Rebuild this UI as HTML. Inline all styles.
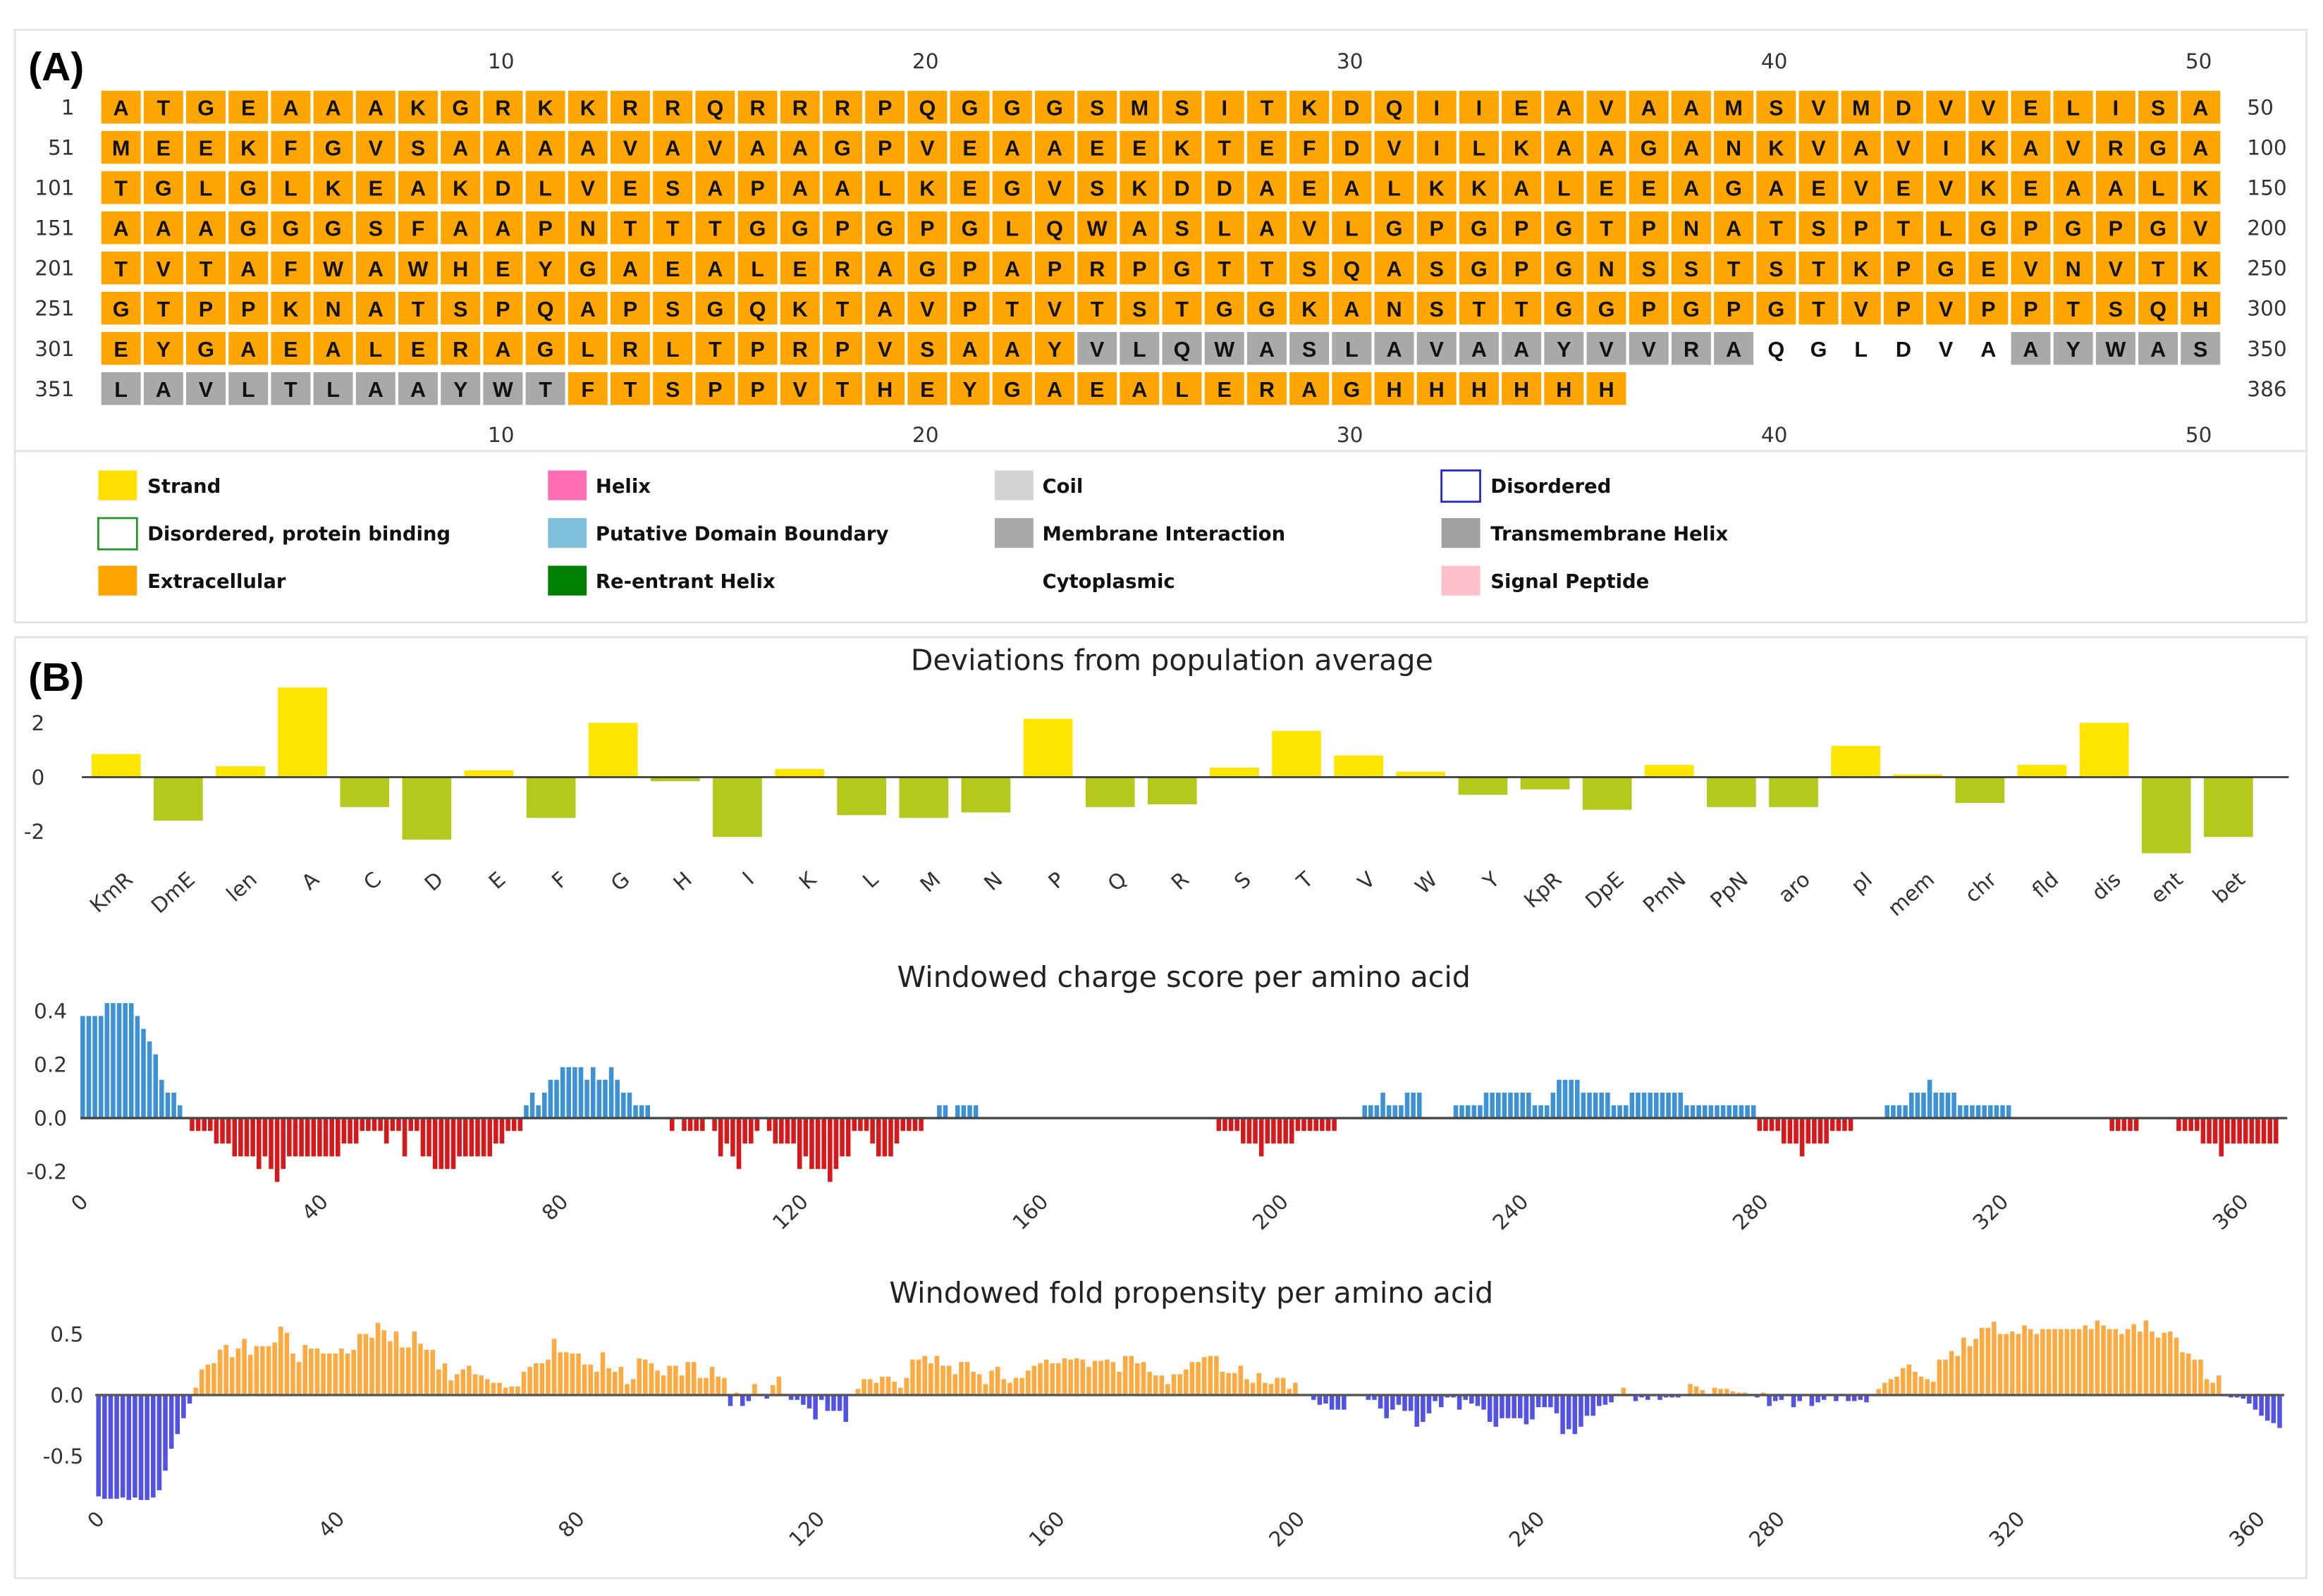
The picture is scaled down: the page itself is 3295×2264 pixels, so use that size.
<!DOCTYPE html>
<html><head><meta charset="utf-8"><style>
html,body{margin:0;padding:0;background:#fff;}
svg{display:block;font-family:"DejaVu Sans","Liberation Sans",sans-serif;}
.seqt{font-family:"Liberation Sans","DejaVu Sans",sans-serif;font-weight:bold;font-size:14.5px;}
.leg{font-family:"DejaVu Sans","Liberation Sans",sans-serif;font-weight:bold;font-size:13px;fill:#111;}
</style></head><body>
<svg id="fig" xmlns="http://www.w3.org/2000/svg" width="3295" height="2264" viewBox="0 0 1560 1072" preserveAspectRatio="none">
<rect x="10" y="20" width="1539" height="283" fill="#fff" stroke="#e2e2e2" stroke-width="1.2"/>
<rect x="10" y="303" width="1539" height="115" fill="#fff" stroke="#e2e2e2" stroke-width="1.2"/>
<rect x="10" y="428" width="1539" height="632" fill="#fff" stroke="#e2e2e2" stroke-width="1.2"/>
<text x="19" y="54" font-family="Liberation Sans, sans-serif" font-weight="bold" font-size="27">(A)</text>
<text x="19" y="464" font-family="Liberation Sans, sans-serif" font-weight="bold" font-size="27">(B)</text>
<g id="seq"></g>
<g id="legend">
<rect x="66" y="316" width="26" height="20" fill="#FFE000"/><text class="leg" x="99" y="331">Strand</text>
<rect x="368" y="316" width="26" height="20" fill="#FF6EB4"/><text class="leg" x="400" y="331">Helix</text>
<rect x="668" y="316" width="26" height="20" fill="#D3D3D3"/><text class="leg" x="700" y="331">Coil</text>
<rect x="968" y="316" width="26" height="21" fill="#fff" stroke="#2222dd" stroke-width="1.3"/><text class="leg" x="1001" y="331">Disordered</text>
<rect x="66" y="348" width="26" height="21" fill="#fff" stroke="#229922" stroke-width="1.3"/><text class="leg" x="99" y="363">Disordered, protein binding</text>
<rect x="368" y="348" width="26" height="20" fill="#7EC0DD"/><text class="leg" x="400" y="363">Putative Domain Boundary</text>
<rect x="668" y="348" width="26" height="20" fill="#A9A9A9"/><text class="leg" x="700" y="363">Membrane Interaction</text>
<rect x="968" y="348" width="26" height="20" fill="#A0A0A0"/><text class="leg" x="1001" y="363">Transmembrane Helix</text>
<rect x="66" y="380" width="26" height="20" fill="#FFA500"/><text class="leg" x="99" y="395">Extracellular</text>
<rect x="368" y="380" width="26" height="20" fill="#008000"/><text class="leg" x="400" y="395">Re-entrant Helix</text>
<text class="leg" x="700" y="395">Cytoplasmic</text>
<rect x="968" y="380" width="26" height="20" fill="#FFC0CB"/><text class="leg" x="1001" y="395">Signal Peptide</text>
</g>
<text x="787" y="450" text-anchor="middle" font-size="19.5" fill="#222">Deviations from population average</text>
<text x="795" y="663" text-anchor="middle" font-size="19.5" fill="#222">Windowed charge score per amino acid</text>
<text x="800" y="875" text-anchor="middle" font-size="19.5" fill="#222">Windowed fold propensity per amino acid</text>
<g id="dev"></g><g id="chg"></g><g id="fold"></g>
</svg>
<script>
const NS="http://www.w3.org/2000/svg";
function mk(tag,attrs,parent){const e=document.createElementNS(NS,tag);for(const k in attrs)e.setAttribute(k,attrs[k]);parent.appendChild(e);return e;}

// ---------- Sequence panel ----------
const seqRows=["ATGEAAAKGRKKRRQRRRPQGGGSMSITKDQIIEAVAAMSVMDVVELISA",
"MEEKFGVSAAAAVAVAAGPVEAAEEKTEFDVILKAAGANKVAVIKAVRGA",
"TGLGLKEAKDLVESAPAALKEGVSKDDAEALKKALEEAGAEVEVKEAALK",
"AAAGGGSFAAPNTTTGGPGPGLQWASLAVLGPGPGTPNATSPTLGPGPGV",
"TVTAFWAWHEYGAEALERAGPAPRPGTTSQASGPGNSSTSTKPGEVNVTK",
"GTPPKNATSPQAPSGQKTAVPTVTSTGGKANSTTGGPGPGTVPVPPTSQH",
"EYGAEALERAGLRLTPRPVSAAYVLQWASLAVAAYVVRAQGLDVAAYWAS",
"LAVLTLAAYWTFTSPPVTHEYGAEALERAGHHHHHH"];
const rowStarts=[1,51,101,151,201,251,301,351];
const rowEnds=[50,100,150,200,250,300,350,386];
const tmRanges=[[324,339],[346,361]];
const unannotated=[[340,345]];
const seqG=document.getElementById('seq');
const cx0=68, cw=28.5, ry0=61, rh=27;
function inR(n,rs){return rs.some(r=>n>=r[0]&&n<=r[1]);}
seqRows.forEach((row,r)=>{
  const t=mk('text',{x:50,y:ry0+r*rh+16,'text-anchor':'end','font-size':14,fill:'#333'},seqG);
  t.textContent=rowStarts[r];
  
  
  const t2=mk('text',{x:1509,y:ry0+r*rh+16,'font-size':14,fill:'#333'},seqG);
  t2.textContent=rowEnds[r];
  
  
  for(let c=0;c<row.length;c++){
    const n=rowStarts[r]+c;
    const col=inR(n,tmRanges)?'#A9A9A9':(inR(n,unannotated)?'#fff':'#FFA500');
    const rc=mk('rect',{x:cx0+c*cw,y:ry0+r*rh,width:26.5,height:22,fill:col},seqG);
    
    
    const lt=mk('text',{x:cx0+c*cw+13.25,y:ry0+r*rh+16.5,'text-anchor':'middle',class:'seqt',fill:'#111'},seqG);
    lt.textContent=row[c];
    
    
  }
});
[10,20,30,40,50].forEach(v=>{
  [46,297].forEach(yy=>{
    const t=mk('text',{x:cx0+(v-1)*cw+12,y:yy,'text-anchor':'middle','font-size':14,fill:'#333'},seqG);
    t.textContent=v;
    
    
  });
});

// ---------- Deviation chart ----------
const devCats=["KmR","DmE","len","A","C","D","E","F","G","H","I","K","L","M","N","P","Q","R","S","T","V","W","Y","KpR","DpE","PmN","PpN","aro","pI","mem","chr","fld","dis","ent","bet"];
const devVals=[0.85,-1.6,0.4,3.3,-1.1,-2.3,0.25,-1.5,2.0,-0.15,-2.2,0.3,-1.4,-1.5,-1.3,2.15,-1.1,-1.0,0.35,1.7,0.8,0.2,-0.65,-0.45,-1.2,0.45,-1.1,-1.1,1.15,0.1,-0.95,0.45,2.0,-2.8,-2.2];
const devTicks=[2,0,-2];
const devG=document.getElementById('dev');
function devX(i){return 78+i*41.72;}
function devY(v){return 522-v*18.25;}
devVals.forEach((v,i)=>{
  const y0=devY(0),y1=devY(v);
  const b=mk('rect',{x:devX(i)-16.5,y:Math.min(y0,y1),width:33,height:Math.abs(y1-y0),fill:v>=0?'#FFE600':'#B3C91C'},devG);
  
  
  const t=mk('text',{x:devX(i)+12,y:592,'text-anchor':'end','font-size':14,fill:'#333',transform:`rotate(-42 ${devX(i)+12} 592)`},devG);
  t.textContent=devCats[i];
  
  
});
const dl=mk('line',{x1:55,x2:1537,y1:devY(0),y2:devY(0),stroke:'#333','stroke-width':1.2},devG);


devTicks.forEach(v=>{
  const t=mk('text',{x:30,y:devY(v)+5,'text-anchor':'end','font-size':14,fill:'#333'},devG);
  t.textContent=v;
  
  
});

// ---------- Charge chart ----------
const chargeVals=[
.381,.381,.381,.381,.429,.429,.429,.429,.429,.381,.333,.286,.238,.143,.095,.095,.048,0,
-.048,-.048,-.048,-.048,-.095,-.095,-.095,-.143,-.143,-.143,-.143,-.19,-.143,-.19,-.238,-.19,
-.143,-.143,-.143,-.143,-.143,-.143,-.143,-.143,-.143,-.095,-.095,-.095,-.048,-.048,-.048,-.048,
-.095,-.048,-.048,-.143,-.048,-.048,-.143,-.143,-.19,-.19,-.19,-.19,-.143,-.143,-.143,-.143,-.143,-.143,
-.095,-.095,-.048,-.048,-.048,
.048,.095,.048,.095,.143,.143,.19,.19,.19,.19,.143,.19,.143,.143,.19,.143,.095,.095,.048,.048,.048,
0,0,0,-.048,0,-.048,-.048,-.048,-.048,0,-.048,-.143,-.095,-.143,-.19,-.095,-.095,-.048,0,
-.048,-.095,-.095,-.095,-.095,-.19,-.143,-.19,-.19,-.19,-.238,-.19,-.143,-.143,-.048,-.048,-.048,
-.095,-.143,-.143,-.143,-.095,-.048,-.048,-.048,-.048,0,0,.048,.048,0,.048,.048,.048,.048,
0,0,0,0,0,0,0,0,0,0,0,0,0,0,0,0,0,0,0,0,0,0,0,0,0,0,0,0,0,0,0,0,0,0,0,0,0,0,0,
-.048,-.048,-.048,-.048,-.095,-.095,-.095,-.143,-.095,-.095,-.095,-.095,-.095,
-.048,-.048,-.048,-.048,-.048,-.048,-.048,0,0,0,0,
.048,.048,.048,.095,.048,.048,.048,.095,.095,.095,0,0,0,0,0,
.048,.048,.048,.048,.048,.095,.095,.095,.095,.095,.095,.095,.095,.048,.048,.048,.095,
.143,.143,.143,.143,.095,.095,.095,.095,.095,.048,.048,.048,
.095,.095,.095,.095,.095,.095,.095,.095,.095,
.048,.048,.048,.048,.048,.048,.048,.048,.048,.048,.048,.048,
-.048,-.048,-.048,-.048,-.095,-.095,-.095,-.143,-.095,-.095,-.095,-.095,-.048,-.048,-.048,-.048,
0,0,0,0,0,.048,.048,.048,.048,.095,.095,.095,.143,.095,.095,.095,.095,
.048,.048,.048,.048,.048,.048,.048,.048,.048,
0,0,0,0,0,0,0,0,0,0,0,0,0,0,0,0,
-.048,-.048,-.048,-.048,-.048,0,0,0,0,0,0,
-.048,-.048,-.048,-.048,-.095,-.095,-.095,-.143,-.095,-.095,-.095,-.095,-.095,-.095,-.095,-.095,-.095];
const chargeTicksY=[0.4,0.2,0.0,-0.2];
const chargeTickLabelsY=["0.4","0.2","0.0","-0.2"];
const chargeTicksX=[0,40,80,120,160,200,240,280,320,360];
const chgG=document.getElementById('chg');
function cX(i){return 54+i*4.08;}
function cY(v){return 751-v*180;}
function cTickX(v){return 60+v*4.03;}
chargeVals.forEach((v,i)=>{
  if(v===0)return;
  const y0=cY(0),y1=cY(v);
  const b=mk('rect',{x:cX(i),y:Math.min(y0,y1),width:3.1,height:Math.abs(y1-y0),fill:v>0?'#3D92D6':'#D7191C'},chgG);
  
  
});
const cl=mk('line',{x1:54,x2:1536,y1:cY(0),y2:cY(0),stroke:'#444','stroke-width':1.6},chgG);


chargeTicksY.forEach((v,k)=>{
  const t=mk('text',{x:45,y:cY(v)+5,'text-anchor':'end','font-size':14,fill:'#333'},chgG);
  t.textContent=chargeTickLabelsY[k];
  
  
});
chargeTicksX.forEach(v=>{
  const x=cTickX(v);
  const t=mk('text',{x:x,y:808,'text-anchor':'end','font-size':14,fill:'#333',transform:`rotate(-45 ${x} 808)`},chgG);
  t.textContent=v;
  
  
});

// ---------- Fold chart ----------
const foldVals=[
-0.83,-0.85,-0.85,-0.85,-0.84,-0.86,-0.84,-0.86,-0.86,-0.84,-0.78,-0.62,-0.44,-0.32,-0.19,-0.07,
0.06,0.21,0.25,0.26,0.37,0.41,0.31,0.38,0.46,0.33,0.40,0.40,0.40,0.43,0.56,0.51,0.34,0.27,0.41,0.38,
0.38,0.34,0.34,0.34,0.38,0.34,0.37,0.50,0.50,0.47,0.59,0.53,0.44,0.52,0.39,0.39,0.52,0.42,0.37,0.37,
0.21,0.26,0.12,0.17,0.21,0.24,0.17,0.16,0.13,0.10,0.10,0.06,0.07,0.07,0.19,0.23,0.26,0.26,0.29,0.46,
0.35,0.35,0.34,0.34,0.25,0.25,0.19,0.35,0.22,0.19,0.23,0.09,0.13,0.30,0.29,0.26,0.20,0.16,0.24,0.24,
0.16,0.27,0.27,0.14,0.14,0.23,0.15,0.14,
-0.09,0.02,-0.09,-0.05,0.09,0.01,-0.03,0.08,0.15,0.01,-0.04,-0.04,-0.08,-0.11,-0.20,-0.04,-0.13,-0.13,-0.13,-0.22,
0.01,0.05,0.13,0.13,0.10,0.15,0.15,0.11,0.06,0.14,0.29,0.29,0.32,0.26,0.32,0.24,0.24,0.17,0.27,0.27,
0.19,0.17,0.09,0.20,0.23,0.13,0.10,0.14,0.14,0.20,0.24,0.26,0.29,0.26,0.26,0.30,0.29,0.30,0.29,0.23,
0.28,0.28,0.29,0.27,0.19,0.32,0.32,0.26,0.27,0.19,0.16,0.16,0.09,0.17,0.17,0.21,0.27,0.27,0.31,0.32,
0.32,0.19,0.18,0.18,0.24,0.13,0.10,0.18,0.10,0.09,0.14,0.14,0.05,0.10,0.0,0.0,
-0.04,-0.08,-0.07,-0.12,-0.12,-0.12,0.01,0.01,0.0,-0.04,-0.04,-0.11,-0.19,-0.12,-0.08,-0.13,-0.13,-0.26,-0.22,-0.15,
-0.05,-0.10,-0.02,-0.02,-0.12,-0.04,-0.07,-0.09,-0.12,-0.22,-0.26,-0.19,-0.19,-0.19,-0.19,-0.24,-0.20,-0.10,-0.10,-0.10,
-0.15,-0.32,-0.28,-0.32,-0.26,
-0.17,-0.17,-0.09,-0.08,-0.06,0.01,0.06,0.01,-0.05,-0.02,-0.04,-0.01,-0.04,-0.02,-0.02,-0.02,0.0,0.09,0.07,0.04,
-0.01,0.06,0.05,0.05,0.03,0.02,0.02,0.01,-0.02,0.02,-0.09,-0.05,-0.04,0.0,-0.10,-0.05,0.0,-0.09,-0.06,-0.04,
0.01,-0.05,0.01,-0.05,-0.05,-0.04,-0.06,0.0,0.05,0.10,0.13,0.15,0.22,0.25,0.19,0.15,0.13,0.11,0.29,0.29,
0.36,0.32,0.47,0.40,0.46,0.55,0.55,0.60,0.50,0.50,0.52,0.50,0.57,0.54,0.50,0.54,0.54,0.54,0.54,0.54,
0.54,0.54,0.57,0.54,0.61,0.57,0.54,0.54,0.50,0.54,0.58,0.52,0.61,0.52,0.47,0.51,0.52,0.47,0.35,0.34,
0.29,0.29,0.13,0.10,0.16,-0.01,-0.02,-0.02,-0.03,-0.07,-0.12,-0.17,-0.21,-0.23,-0.27];
const foldTicksY=[0.5,0.0,-0.5];
const foldTickLabelsY=["0.5","0.0","-0.5"];
const foldTicksX=[0,40,80,120,160,200,240,280,320,360];
const foldG=document.getElementById('fold');
function fX(i){return 64.6+i*4.08;}
function fY(v){return 937-v*82;}
function fTickX(v){return 71+v*4.03;}
foldVals.forEach((v,i)=>{
  if(v===0)return;
  const y0=fY(0),y1=fY(v);
  const b=mk('rect',{x:fX(i),y:Math.min(y0,y1),width:3.1,height:Math.abs(y1-y0),fill:v>0?'#FFAA40':'#5252E6'},foldG);
  
  
});
const fl=mk('line',{x1:64,x2:1534,y1:fY(0),y2:fY(0),stroke:'#555','stroke-width':1.6},foldG);


foldTicksY.forEach((v,k)=>{
  const t=mk('text',{x:56,y:fY(v)+5,'text-anchor':'end','font-size':14,fill:'#333'},foldG);
  t.textContent=foldTickLabelsY[k];
  
  
});
foldTicksX.forEach(v=>{
  const x=fTickX(v);
  const t=mk('text',{x:x,y:1021,'text-anchor':'end','font-size':14,fill:'#333',transform:`rotate(-45 ${x} 1021)`},foldG);
  t.textContent=v;
  
  
});
</script>
</body></html>
